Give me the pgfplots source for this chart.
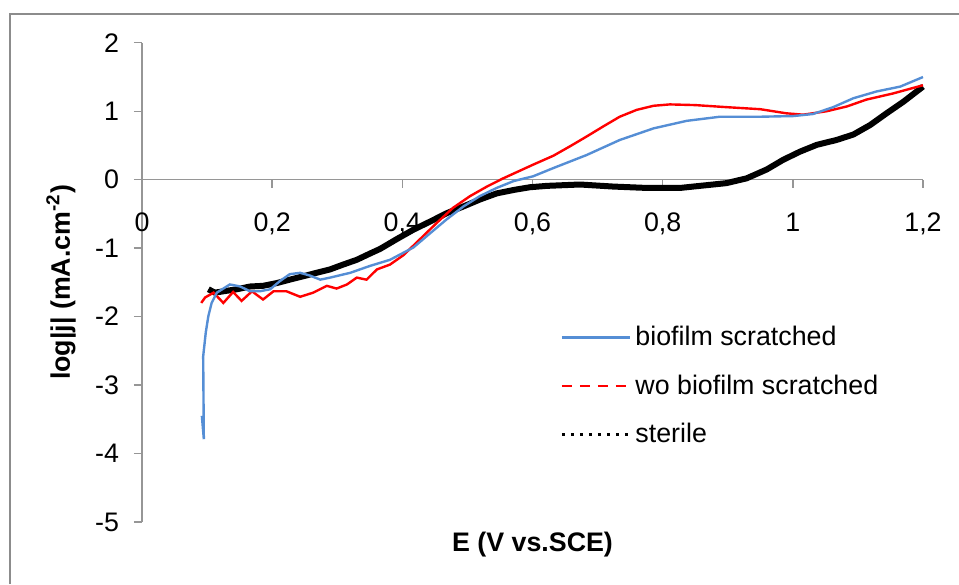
\documentclass[border=0pt]{standalone}
\usepackage{fontspec}
\setmainfont{Liberation Sans}
\usepackage{pgfplots}
\pgfplotsset{compat=1.18}

\definecolor{bioblue}{RGB}{85,142,213}
\definecolor{axisgray}{RGB}{150,150,150}
\definecolor{framegray}{RGB}{140,140,140}

\newcommand{\chartfont}{\fontsize{13.4}{15}\selectfont}

\begin{document}
\begin{tikzpicture}
% page size, in the proportions of the reference
\path[use as bounding box] (-71pt,-31pt) rectangle (408.5pt,261pt);

\begin{axis}[
  name=ax,
  at={(0,0)}, anchor=south west,
  scale only axis,
  width=390.5pt, height=239.6pt,
  xmin=0, xmax=1.2,
  ymin=-5, ymax=2,
  axis x line=middle,
  axis y line=left,
  axis line style={draw=axisgray, line width=0.7pt, -},
  xtick={0,0.2,0.4,0.6,0.8,1,1.2},
  ytick={-5,-4,-3,-2,-1,0,1,2},
  tick align=outside,
  major tick length=4pt,
  tick style={draw=axisgray, line width=0.7pt},
  hide obscured x ticks=false,
  hide obscured y ticks=false,
  /pgf/number format/assume math mode=true,
  tick label style={font=\chartfont},
  xticklabel style={/pgf/number format/fixed, /pgf/number format/use comma,
    /pgf/number format/precision=1, anchor=north, yshift=-9pt},
  yticklabel style={anchor=east, xshift=-4pt},
  xlabel={E (V vs.SCE)},
  ylabel={log|j| (mA.cm\textsuperscript{-2})},
  xlabel style={at={(rel axis cs:0.5,0)}, anchor=center, yshift=-11.5pt, font=\bfseries\chartfont},
  ylabel style={at={([xshift=-40.5pt]rel axis cs:0,0.5)}, anchor=center, font=\bfseries\chartfont},
  legend style={draw=none, fill=none, font=\chartfont,
    at={(rel axis cs:0.535,0.284)}, anchor=west,
    row sep=9pt, inner sep=0pt},
  legend cell align=left,
  legend image code/.code={\draw[#1] (0pt,0pt) -- (34pt,0pt);},
  clip=false,
]

% legend samples (the chart's legend uses other dashes than the curves)
\addlegendimage{bioblue, line width=1.2pt}
\addlegendentry{biofilm scratched}
\addlegendimage{red, line width=1.2pt, dash pattern=on 5pt off 4pt}
\addlegendentry{wo biofilm scratched}
\addlegendimage{black, line width=1.6pt, dash pattern=on 1.5pt off 3pt}
\addlegendentry{sterile}

% sterile
\addplot[black, line width=3pt, forget plot] coordinates {
  (0.102,-1.60) (0.112,-1.65) (0.125,-1.63) (0.146,-1.60) (0.166,-1.56)
  (0.186,-1.55) (0.207,-1.51) (0.227,-1.46) (0.248,-1.41) (0.268,-1.36)
  (0.289,-1.31) (0.309,-1.24) (0.330,-1.17) (0.350,-1.08) (0.366,-1.01)
  (0.391,-0.87) (0.417,-0.73) (0.443,-0.61) (0.468,-0.49) (0.494,-0.39)
  (0.519,-0.29) (0.545,-0.20) (0.571,-0.15) (0.596,-0.11) (0.622,-0.09)
  (0.673,-0.07) (0.724,-0.10) (0.775,-0.12) (0.827,-0.12) (0.847,-0.10)
  (0.898,-0.05) (0.929,0.02) (0.960,0.15) (0.985,0.29) (1.011,0.41)
  (1.037,0.51) (1.067,0.58) (1.093,0.66) (1.119,0.80) (1.144,0.97)
  (1.170,1.14) (1.200,1.36)
};

% wo biofilm scratched
\addplot[red, line width=1.2pt, forget plot] coordinates {
  (0.091,-1.80) (0.097,-1.72) (0.110,-1.65) (0.125,-1.80) (0.140,-1.64)
  (0.153,-1.77) (0.169,-1.63) (0.186,-1.75) (0.202,-1.63) (0.222,-1.63)
  (0.243,-1.71) (0.263,-1.65) (0.284,-1.55) (0.299,-1.59) (0.315,-1.53)
  (0.330,-1.43) (0.345,-1.46) (0.361,-1.31) (0.381,-1.24) (0.402,-1.10)
  (0.427,-0.87) (0.453,-0.63) (0.478,-0.41) (0.504,-0.24) (0.530,-0.10)
  (0.555,0.02) (0.601,0.22) (0.632,0.35) (0.658,0.49) (0.683,0.63)
  (0.709,0.78) (0.734,0.92) (0.760,1.02) (0.786,1.08) (0.811,1.10)
  (0.850,1.09) (0.898,1.06) (0.950,1.03) (0.990,0.97) (1.016,0.95)
  (1.052,1.00) (1.083,1.07) (1.113,1.17) (1.154,1.26) (1.200,1.38)
};

% biofilm scratched
\addplot[bioblue, line width=1.2pt, forget plot] coordinates {
  (0.092,-3.45) (0.095,-3.79) (0.094,-2.58) (0.098,-2.23) (0.102,-1.99)
  (0.107,-1.80) (0.115,-1.65) (0.135,-1.53) (0.151,-1.56) (0.166,-1.63)
  (0.181,-1.63) (0.197,-1.60) (0.212,-1.48) (0.227,-1.38) (0.243,-1.36)
  (0.258,-1.40) (0.274,-1.46) (0.289,-1.43) (0.320,-1.36) (0.350,-1.26)
  (0.381,-1.17) (0.417,-0.99) (0.443,-0.78) (0.468,-0.58) (0.494,-0.39)
  (0.519,-0.24) (0.545,-0.12) (0.571,-0.02) (0.601,0.05) (0.632,0.17)
  (0.683,0.36) (0.734,0.58) (0.786,0.75) (0.837,0.86) (0.888,0.92)
  (0.950,0.92) (1.001,0.93) (1.031,0.96) (1.062,1.06) (1.093,1.19)
  (1.129,1.29) (1.165,1.36) (1.200,1.50)
};

\end{axis}

% outer chart frame (top and left edges are in view)
\draw[framegray, line width=1pt] (-65.75pt,-31pt) -- (-65.75pt,254pt) -- (408.5pt,254pt);
\end{tikzpicture}
\end{document}
